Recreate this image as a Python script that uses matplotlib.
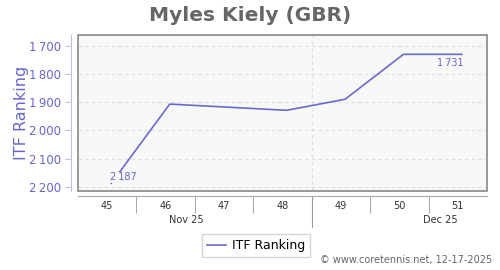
import numpy as np
import matplotlib.pyplot as plt
from matplotlib.patches import Rectangle
from matplotlib.lines import Line2D

# data
weeks = ['45', '46', '47', '48', '49', '50', '51']
point_weeks = [45, 46, 48, 49, 50, 51]
ranking = [2187, 1907, 1929, 1890, 1731, 1731]
months = ['Nov 25', 'Dec 25']
month_centers = [1.35, 5.7]   # in week-slot units
month_break = 3.5
y_ticks = [1700, 1800, 1900, 2000, 2100, 2200]

line_col = '#6a6acd'
text_col = '#6666cc'

fig = plt.figure(figsize=(5, 2.7), dpi=100)
ax = fig.add_axes([0.156, 0.293, 0.818, 0.577])
ax.set_facecolor('#f8f8f8')

xs = np.array(point_weeks) - 45 + 0.07
ax.plot(xs, ranking, color=line_col, lw=1.2, zorder=3)

ax.set_xlim(-0.5, 6.5)
ax.set_ylim(2214, 1663)

# grid
for v in y_ticks:
    ax.axhline(v, color='#dddddd', lw=0.8, ls=(0, (3, 3)), zorder=1)
ax.axvline(month_break, color='#dddddd', lw=0.8, ls=(0, (3, 3)), zorder=1)

# plot box
ax.add_patch(Rectangle((0, 0), 1, 1, transform=ax.transAxes, fill=False,
                       edgecolor='#888888', lw=1.2, zorder=5, clip_on=False))

for s in ['top', 'right']:
    ax.spines[s].set_visible(False)
ax.spines['left'].set_position(('outward', 5))
ax.spines['left'].set_color('#c0c0e6')
ax.spines['bottom'].set_position(('outward', 4))
ax.spines['bottom'].set_color('#aaaaaa')

ax.set_yticks(y_ticks)
ax.set_yticklabels([f'{v // 1000}\u2009{v % 1000:03d}' for v in y_ticks],
                   color=text_col, fontsize=8.5)
ax.tick_params(axis='y', color='#c0c0e6', length=4)
ax.set_ylabel('ITF Ranking', color=text_col, fontsize=11.5)
ax.yaxis.set_label_coords(-0.121, 0.5)

ax.set_xticks(range(len(weeks)))
ax.set_xticklabels(weeks, fontsize=7, color='#333333')
ax.tick_params(axis='x', length=0, pad=3)
ax.set_xticks(np.arange(0.5, 6, 1), minor=True)
ax.tick_params(axis='x', which='minor', length=12, color='#999999')

# month row
trans = ax.get_xaxis_transform()
for m, c in zip(months, month_centers):
    ax.text(c, -0.185, m, transform=trans, ha='center', va='center',
            fontsize=7, color='#333333')
ax.add_line(Line2D([month_break, month_break], [-0.03, -0.23], transform=trans,
                   color='#999999', lw=0.8, clip_on=False))

# value labels
bb = dict(facecolor='#f8f8f8', edgecolor='none', pad=0.2)
ax.text(xs[0] + 0.2, 2166, '2\u2009187', color=text_col, fontsize=7,
        ha='center', va='center', bbox=bb, zorder=4)
ax.text(xs[-1] - 0.2, 1763, '1\u2009731', color=text_col, fontsize=7,
        ha='center', va='center', zorder=4)

fig.suptitle('Myles Kiely (GBR)', x=0.5, y=0.978, fontsize=14.5,
             fontweight='bold', color='#666666')

leg = fig.legend([Line2D([], [], color=line_col, lw=1.2)], ['ITF Ranking'],
                 loc='center', bbox_to_anchor=(0.512, 0.091), fontsize=9,
                 frameon=True, fancybox=False, edgecolor='#cccccc',
                 handlelength=1.5, handletextpad=0.5, borderpad=0.4)

fig.text(0.984, 0.02, '\u00a9 www.coretennis.net, 12-17-2025', ha='right',
         va='bottom', fontsize=7, color='#666666')

fig.savefig('out.png', dpi=100)
